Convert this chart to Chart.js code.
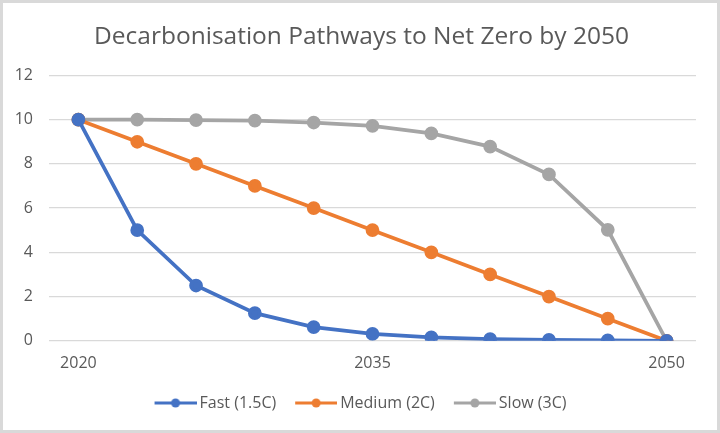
<!DOCTYPE html>
<html>
<head>
<meta charset="utf-8">
<script src="https://cdn.jsdelivr.net/npm/chart.js@4.4.0/dist/chart.umd.min.js"></script>
<style>
  html, body { margin: 0; padding: 0; background: #fff; }
  #wrap { width: 714px; height: 427px; border: 3px solid #d9d9d9; position: relative; }
</style>
</head>
<body>
<div id="wrap"><canvas id="pathChart"></canvas></div>
<script>
// years 2020..2050 in 3-year steps, only every 5th one labelled
const years = ['2020', '2023', '2026', '2029', '2032', '2035', '2038', '2041', '2044', '2047', '2050'];
const fastValues = [10, 5, 2.5, 1.25, 0.62, 0.31, 0.15, 0.08, 0.04, 0.02, 0];
const mediumValues = [10, 9, 8, 7, 6, 5, 4, 3, 2, 1, 0];
const slowValues = [10, 10, 9.98, 9.96, 9.87, 9.72, 9.38, 8.78, 7.52, 5.02, 0];
const yTicks = [0, 2, 4, 6, 8, 10, 12];

const seriesNames = ['Fast (1.5C)', 'Medium (2C)', 'Slow (3C)'];
const seriesColors = ['#4472C4', '#ED7D31', '#A5A5A5'];

// legend box is 47 wide; the icon canvas is 10px wider so the
// 42px line+dot sits just left of the text, Excel style
const legendBox = 47;
function legendIcon(color) {
    const c = document.createElement('canvas');
    c.width = legendBox + 10; c.height = 12;
    const g = c.getContext('2d');
    const x0 = c.width - 42;
    g.strokeStyle = color;
    g.lineWidth = 3;
    g.beginPath(); g.moveTo(x0, 6); g.lineTo(c.width, 6); g.stroke();
    g.fillStyle = color;
    g.beginPath(); g.arc(x0 + 21, 6, 4.5, 0, Math.PI * 2); g.fill();
    return c;
}

// title in the reference sits centred on the whole frame, not the padded area
const titleShift = {
    id: 'titleShift',
    afterLayout: function(chart) {
        chart.titleBlock.left += 12;
    }
};

const ctx = document.getElementById('pathChart').getContext('2d');
const dataSets = [fastValues, mediumValues, slowValues].map(function(vals, i) {
    return {
        label: seriesNames[i],
        data: vals,
        borderColor: seriesColors[i],
        backgroundColor: seriesColors[i],
        borderWidth: 3.75,
        pointRadius: 5,
        pointHoverRadius: 5.5,
        tension: 0
    };
});

const tickFont = { family: 'Open Sans', size: 16 };

new Chart(ctx, {
    type: 'line',
    data: { labels: years, datasets: dataSets },
    plugins: [titleShift],
    options: {
        responsive: true,
        maintainAspectRatio: false,
        animation: false,
        layout: { padding: { left: 12, right: 21, top: 1, bottom: 9 } },
        scales: {
            x: {
                offset: true,
                grid: { display: false, drawTicks: false },
                border: { display: false },
                ticks: {
                    color: '#595959',
                    font: tickFont,
                    autoSkip: false,
                    maxRotation: 0,
                    padding: 13,
                    callback: function(v, i) { return i % 5 === 0 ? years[i] : null; }
                },
                afterFit: function(axis) { axis.paddingLeft = 0; axis.paddingRight = 0; }
            },
            y: {
                min: yTicks[0],
                max: yTicks[yTicks.length - 1],
                afterBuildTicks: function(axis) { axis.ticks = yTicks.map(function(v) { return { value: v }; }); },
                grid: { color: '#d9d9d9', lineWidth: 1.3, drawTicks: false },
                border: { display: false },
                ticks: {
                    color: '#595959',
                    font: tickFont,
                    padding: 16
                },
                afterFit: function(axis) { axis.width = 34; }
            }
        },
        plugins: {
            title: {
                display: true,
                text: 'Decarbonisation Pathways to Net Zero by 2050',
                color: '#595959',
                font: { family: 'Open Sans', size: 24.5, weight: 'normal' },
                padding: { top: 18, bottom: 24 }
            },
            legend: {
                position: 'bottom',
                labels: {
                    color: '#595959',
                    font: { family: 'Open Sans', size: 16 },
                    usePointStyle: true,
                    pointStyleWidth: legendBox,
                    padding: 9,
                    generateLabels: function(chart) {
                        return chart.data.datasets.map(function(ds, i) {
                            return {
                                text: ds.label,
                                fontColor: '#595959',
                                pointStyle: legendIcon(ds.borderColor),
                                hidden: false,
                                datasetIndex: i
                            };
                        });
                    }
                }
            },
            tooltip: { enabled: true }
        }
    }
});
</script>
</body>
</html>
